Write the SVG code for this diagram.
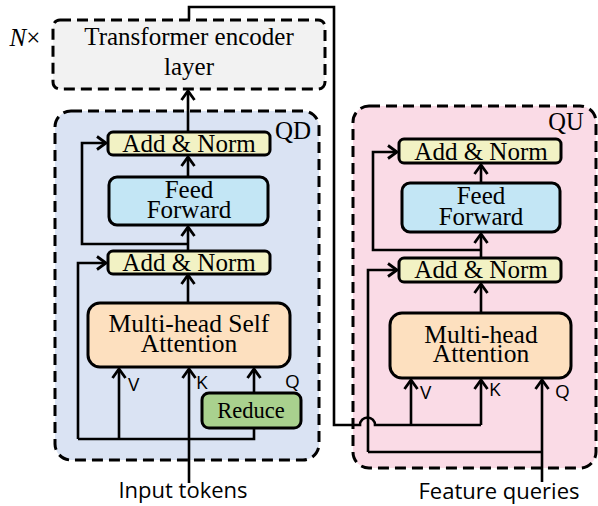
<svg xmlns="http://www.w3.org/2000/svg" width="598" height="506" viewBox="0 0 598 506">
<defs>
<marker id="ah" markerWidth="14" markerHeight="16" refX="11" refY="8" orient="auto" markerUnits="userSpaceOnUse">
<path d="M2,1.5 L11,8 L2,14.5" fill="none" stroke="#000" stroke-width="2.8" stroke-linejoin="miter"/>
</marker>
<style>
.grp{stroke:#000;stroke-width:3;stroke-dasharray:11 6;}
.box{stroke:#000;stroke-width:3;}
.an{fill:#f2f2c4;}
.ff{fill:#c3e6f5;}
.mh{fill:#fde0bf;}
.rd{fill:#a9d18e;}
.serif{font-family:"Liberation Serif","Times New Roman",serif;fill:#000;text-anchor:middle;}
.sans{font-family:"Open Sans","Liberation Sans",Arial,sans-serif;fill:#000;}
.ln{fill:none;stroke:#000;stroke-width:2.6;}
.arr{marker-end:url(#ah);}
</style>
</defs>
<rect width="598" height="506" fill="#fff"/>

<g id="encoder">
<rect x="53" y="20" width="272" height="69" rx="7" fill="#f2f2f2" class="grp"/>
<text x="189" y="45" class="serif" font-size="25">Transformer encoder</text>
<text x="189" y="75" class="serif" font-size="25">layer</text>
<text x="25" y="46" font-family="'Liberation Serif',serif" font-size="25" text-anchor="middle"><tspan font-style="italic">N</tspan>×</text>
</g>

<g id="QD">
<rect x="55" y="111" width="264" height="349" rx="16" fill="#dae3f3" class="grp"/>
<text x="293" y="139" class="serif" font-size="25">QD</text>
</g>
<g id="qd_addnorm2">
<rect x="108" y="132" width="162" height="23" rx="5" class="box an"/>
<text x="189" y="152" class="serif" font-size="25">Add &amp; Norm</text>
</g>
<g id="qd_ff">
<rect x="109" y="177" width="159" height="48" rx="8" class="box ff"/>
<text x="189" y="198" class="serif" font-size="25">Feed</text>
<text x="189" y="218" class="serif" font-size="25">Forward</text>
</g>
<g id="qd_addnorm1">
<rect x="108" y="251" width="162" height="23" rx="5" class="box an"/>
<text x="189" y="271" class="serif" font-size="25">Add &amp; Norm</text>
</g>
<g id="qd_attn">
<rect x="88" y="303" width="202" height="64" rx="12" class="box mh"/>
<text x="189" y="332" class="serif" font-size="25.5">Multi-head Self</text>
<text x="189" y="352" class="serif" font-size="25.5">Attention</text>
</g>
<g id="qd_reduce">
<rect x="202" y="393" width="99" height="35" rx="7" class="box rd"/>
<text x="251" y="418" class="serif" font-size="22.5">Reduce</text>
</g>

<g id="QU">
<rect x="353" y="106" width="243" height="362" rx="16" fill="#fadbe6" class="grp"/>
<text x="566" y="130" class="serif" font-size="24.5">QU</text>
</g>
<g id="qu_addnorm2">
<rect x="399" y="139" width="162" height="24" rx="5" class="box an"/>
<text x="481" y="160" class="serif" font-size="25">Add &amp; Norm</text>
</g>
<g id="qu_ff">
<rect x="402" y="183" width="158" height="49" rx="8" class="box ff"/>
<text x="481" y="204" class="serif" font-size="25">Feed</text>
<text x="481" y="225" class="serif" font-size="25">Forward</text>
</g>
<g id="qu_addnorm1">
<rect x="399" y="258" width="162" height="24" rx="5" class="box an"/>
<text x="481" y="278" class="serif" font-size="25">Add &amp; Norm</text>
</g>
<g id="qu_attn">
<rect x="390" y="313" width="181" height="65" rx="12" class="box mh"/>
<text x="481" y="343" class="serif" font-size="25.5">Multi-head</text>
<text x="481" y="362" class="serif" font-size="25.5">Attention</text>
</g>

<g id="labels">
<text x="128" y="391" class="sans" font-size="19">V</text>
<text x="196" y="389" class="sans" font-size="19">K</text>
<text x="285" y="388" class="sans" font-size="19">Q</text>
<text x="420" y="399" class="sans" font-size="19">V</text>
<text x="489" y="396" class="sans" font-size="19">K</text>
<text x="555" y="398" class="sans" font-size="19">Q</text>
<text x="183" y="498" class="sans" font-size="22" text-anchor="middle">Input tokens</text>
<text x="499" y="499" class="sans" font-size="22" text-anchor="middle">Feature queries</text>
</g>

<g id="connectors">
<!-- QD -->
<path class="ln arr" d="M188,303 V275"/>
<path class="ln arr" d="M188,251 V227"/>
<path class="ln arr" d="M188,177 V157"/>
<path class="ln arr" d="M188,132 V91"/>
<path class="ln arr" d="M188,244 H82 V143 H106"/>
<path class="ln arr" d="M78,439 V263 H106"/>
<path class="ln" d="M78,439 H254 V428"/>
<path class="ln arr" d="M119,439 V369"/>
<path class="ln arr" d="M189,483 V369"/>
<path class="ln arr" d="M254,393 V369"/>
<!-- top link -->
<path class="ln" d="M189,20 V7 H334 V425 H360 A7.5,7.5 0 0 1 375,425 H481"/>
<!-- QU -->
<path class="ln arr" d="M481,313 V284"/>
<path class="ln arr" d="M481,258 V234"/>
<path class="ln arr" d="M481,183 V165"/>
<path class="ln arr" d="M481,250 H373 V152 H397"/>
<path class="ln arr" d="M368,452 V270 H397"/>
<path class="ln" d="M368,452 H542"/>
<path class="ln arr" d="M411,425 V380"/>
<path class="ln arr" d="M481,425 V380"/>
<path class="ln arr" d="M542,482 V380"/>
</g>
</svg>
